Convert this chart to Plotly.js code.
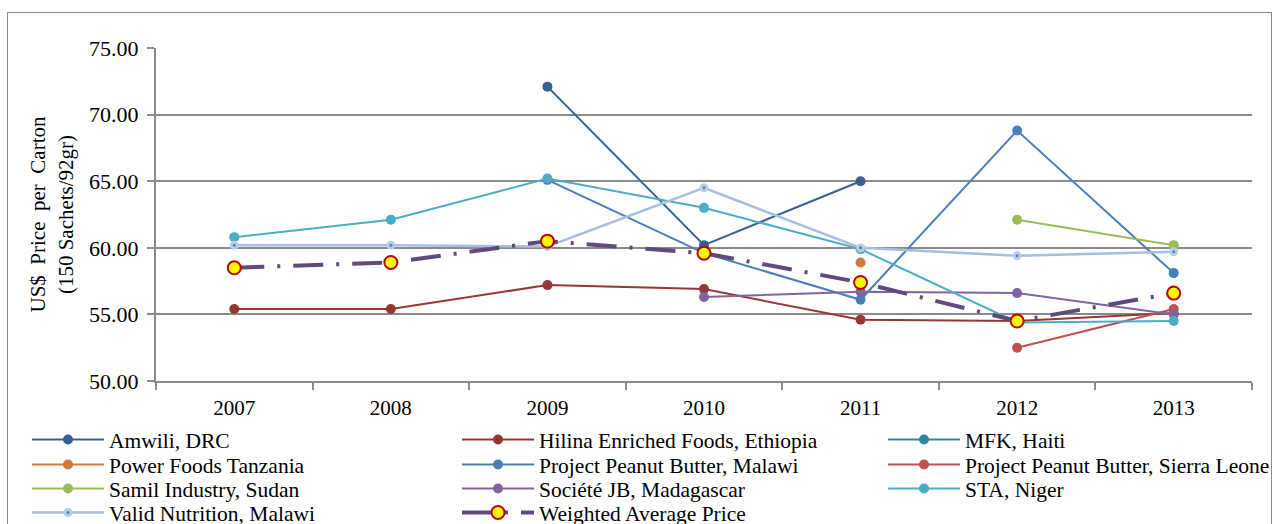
<!DOCTYPE html>
<html>
<head>
<meta charset="utf-8">
<script src="https://cdn.plot.ly/plotly-3.0.1.min.js"></script>
<style>
  html, body { margin: 0; padding: 0; background: #fff; overflow: hidden; width: 1275px; height: 524px; }
  #frame { position: absolute; left: 7px; top: 12px; width: 1265px; height: 600px; border: 1.5px solid #8a8a8a; box-sizing: border-box; pointer-events: none; z-index: 5; }
  #chart { position: absolute; left: 0; top: 0; width: 1320px; height: 640px; }
</style>
</head>
<body>
<div id="chart"></div>
<div id="frame"></div>
<script>
const years = ['2007','2008','2009','2010','2011','2012','2013'];
const amwili        = [null, null, 72.1, 60.2, 65.0, null, null];
const hilina        = [55.4, 55.4, 57.2, 56.9, 54.6, 54.5, 55.1];
const mfk           = [null, null, null, null, null, null, null];
const powerFoods    = [null, null, null, null, 58.9, null, null];
const ppbMalawi     = [null, null, 65.1, 59.6, 56.1, 68.8, 58.1];
const ppbSierra     = [null, null, null, null, null, 52.5, 55.4];
const samil         = [null, null, null, null, null, 62.1, 60.2];
const societeJB     = [null, null, null, 56.3, 56.7, 56.6, 55.0];
const sta           = [60.8, 62.1, 65.2, 63.0, 59.9, 54.4, 54.5];
const validNutr     = [60.2, 60.2, 60.1, 64.5, 60.0, 59.4, 59.7];
const weighted      = [58.5, 58.9, 60.5, 59.6, 57.4, 54.5, 56.6];

const seriesNames = ['Amwili, DRC','Hilina Enriched Foods, Ethiopia','MFK, Haiti',
  'Power Foods Tanzania','Project Peanut Butter, Malawi','Project Peanut Butter, Sierra Leone',
  'Samil Industry, Sudan','Société JB, Madagascar','STA, Niger',
  'Valid Nutrition, Malawi','Weighted Average Price'];

function legendId(i) { return i === 0 ? 'legend' : 'legend' + (i + 1); }

function simple(i, y, color) {
  return { type: 'scatter', mode: 'lines+markers', name: seriesNames[i], x: years, y: y,
    legend: legendId(i), connectgaps: false,
    line: { color: color, width: 2 },
    marker: { color: color, size: 10, symbol: 'circle' } };
}

const traces = [
  simple(0, amwili, '#376092'),
  simple(1, hilina, '#953735'),
  simple(2, mfk, '#31859C'),
  simple(3, powerFoods, '#D4783A'),
  simple(4, ppbMalawi, '#4A7EBB'),
  simple(5, ppbSierra, '#C0504D'),
  simple(6, samil, '#9BBB59'),
  simple(7, societeJB, '#8064A2'),
  simple(8, sta, '#4BACC6'),
  { type: 'scatter', mode: 'lines+markers', name: seriesNames[9], x: years, y: validNutr,
    legend: legendId(9),
    line: { color: '#A7BFDE', width: 2.5 },
    marker: { color: '#4F81BD', size: 6, line: { color: '#B9CDE5', width: 3 } } },
  { type: 'scatter', mode: 'lines+markers', name: seriesNames[10], x: years, y: weighted,
    legend: legendId(10),
    line: { color: '#604A7B', width: 4, dash: '30px,13px,3px,13px' },
    marker: { color: '#FFFF00', size: 13, line: { color: '#C00000', width: 2 } } }
];

const font = 'Liberation Serif, Times New Roman, serif';
const W = 1320, H = 640, plotTop = 48, plotBottom = 381, plotLeft = 156, plotRight = 1252;
const plotW = plotRight - plotLeft, plotH = plotBottom - plotTop;

const layout = {
  width: W, height: H,
  margin: { l: plotLeft, r: W - plotRight, t: plotTop, b: H - plotBottom },
  paper_bgcolor: 'rgba(0,0,0,0)', plot_bgcolor: '#fff',
  font: { family: font, color: '#000', size: 21 },
  showlegend: true,
  xaxis: {
    type: 'category', range: [-0.5, 6.5],
    showline: true, linecolor: '#8a8a8a', linewidth: 2,
    ticks: 'outside', tickson: 'boundaries', ticklen: 7, tickcolor: '#8a8a8a', tickwidth: 2,
    showgrid: false, zeroline: false,
    ticklabelstandoff: 7,
    tickfont: { family: font, size: 21, color: '#000' }
  },
  yaxis: {
    range: [50, 75], dtick: 5, tickformat: '.2f',
    showline: true, linecolor: '#8a8a8a', linewidth: 2,
    ticks: 'outside', ticklen: 7, tickcolor: '#8a8a8a', tickwidth: 2,
    showgrid: true, gridcolor: '#8a8a8a', gridwidth: 2, zeroline: false,
    tickfont: { family: font, size: 22, color: '#000' },
    ticklabelstandoff: 4,
    title: { text: 'US$  Price  per  Carton<br>(150 Sachets/92gr)', font: { family: font, size: 21, color: '#000' }, standoff: 10 }
  }
};

// legend grid: 3 columns, rows filled left to right (same order as the series)
const colLineStart = [32, 462, 888];
const rowCenter = [440, 465, 489, 513];
seriesNames.forEach(function (n, i) {
  const c = i % 3, r = Math.floor(i / 3);
  layout[legendId(i)] = {
    orientation: 'v', xanchor: 'left', yanchor: 'top',
    x: (colLineStart[c] - 5 - plotLeft) / plotW,
    y: -(rowCenter[r] - 21 - plotBottom) / plotH,
    itemwidth: 72,
    font: { family: font, size: 21.5, color: '#000' },
    bgcolor: 'rgba(0,0,0,0)', borderwidth: 0
  };
});

Plotly.newPlot('chart', traces, layout, { displayModeBar: false, staticPlot: true });
</script>
</body>
</html>
